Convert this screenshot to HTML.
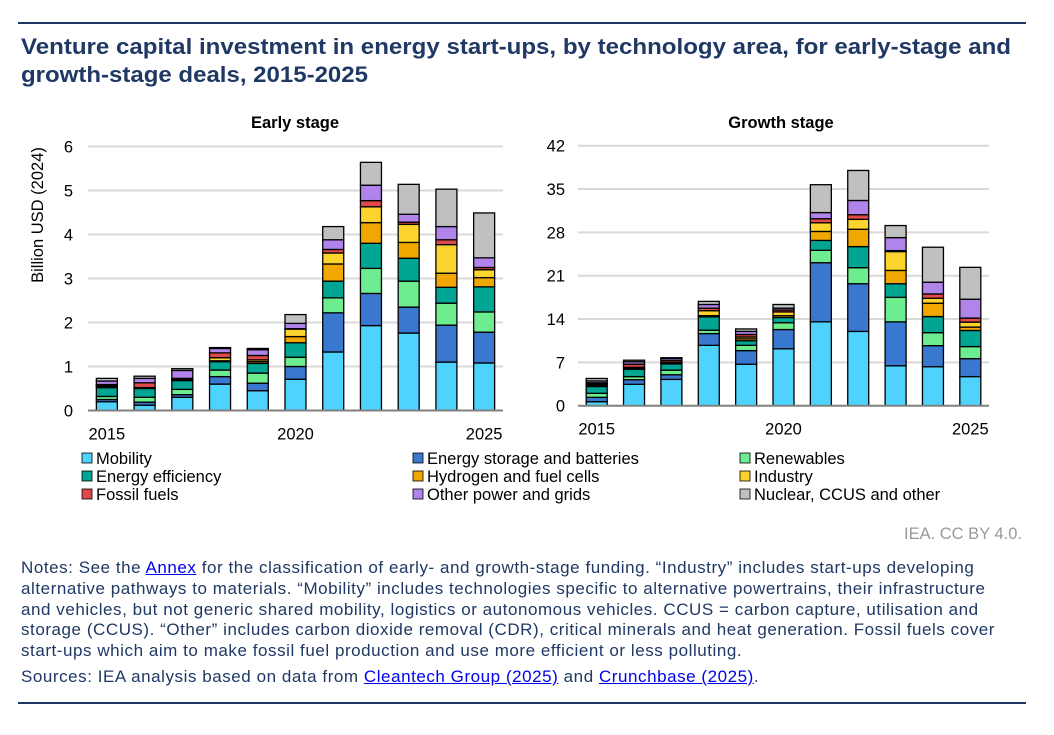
<!DOCTYPE html>
<html><head><meta charset="utf-8"><style>
body{margin:0;background:#fff;width:1054px;height:735px;overflow:hidden;font-family:"Liberation Sans",Arial,sans-serif}
#notes{position:absolute;left:21px;top:558px;font-size:17px;line-height:20.8px;letter-spacing:0.55px;color:#1f3864;white-space:nowrap}
#notes a{color:#0000ee;text-decoration:underline}
</style></head><body>
<svg id="svg" width="1054" height="735" style="position:absolute;left:0;top:0">
<line x1="18" y1="23" x2="1026" y2="23" stroke="#1f3864" stroke-width="2"/>
<text x="21" y="54" font-size="22" font-weight="bold" fill="#1f3864" textLength="990" lengthAdjust="spacingAndGlyphs">Venture capital investment in energy start-ups, by technology area, for early-stage and</text>
<text x="21" y="82" font-size="22" font-weight="bold" fill="#1f3864" textLength="347" lengthAdjust="spacingAndGlyphs">growth-stage deals, 2015-2025</text>
<text x="295" y="128" font-size="16.5" font-weight="bold" text-anchor="middle" fill="#000">Early stage</text>
<text x="781" y="128" font-size="16.5" font-weight="bold" text-anchor="middle" fill="#000">Growth stage</text>
<text transform="translate(43,215) rotate(-90)" font-size="16.5" text-anchor="middle" fill="#000">Billion USD (2024)</text>
<g id="early"></g><g id="growth"></g><g id="legend"></g>
<text x="1022" y="539" font-size="16.5" text-anchor="end" fill="#999">IEA. CC BY 4.0.</text>
<line x1="18" y1="703" x2="1026" y2="703" stroke="#1f3864" stroke-width="2"/>
</svg>
<div id="notes">Notes: See the <a>Annex</a> for the classification of early- and growth-stage funding. “Industry” includes start-ups developing<br>alternative pathways to materials. “Mobility” includes technologies specific to alternative powertrains, their infrastructure<br>and vehicles, but not generic shared mobility, logistics or autonomous vehicles. CCUS = carbon capture, utilisation and<br>storage (CCUS). “Other” includes carbon dioxide removal (CDR), critical minerals and heat generation. Fossil fuels cover<br>start-ups which aim to make fossil fuel production and use more efficient or less polluting.<div style="margin-top:5px">Sources: IEA analysis based on data from <a>Cleantech Group (2025)</a> and <a>Crunchbase (2025)</a>.</div></div>
<script>
const years=[2015,2016,2017,2018,2019,2020,2021,2022,2023,2024,2025];
const seriesNames=["Mobility","Energy storage and batteries","Renewables","Energy efficiency","Hydrogen and fuel cells","Industry","Fossil fuels","Other power and grids","Nuclear, CCUS and other"];
const colors=["#4dd3fd","#3a78d0","#6ded8f","#00a693","#f0a800","#fdd32d","#e0484a","#b084eb","#c0c0c0"];
const earlyTicks=[0,1,2,3,4,5,6];
const growthTicks=[0,7,14,21,28,35,42];
const xTickLabels=["2015","2020","2025"];
// early stage: per series across years
const earlyMobility=[0.2,0.12,0.3,0.6,0.45,0.71,1.33,1.93,1.76,1.1,1.08];
const earlyStorage=[0.05,0.07,0.06,0.17,0.17,0.29,0.89,0.73,0.59,0.84,0.7];
const earlyRenewables=[0.07,0.11,0.12,0.15,0.23,0.21,0.34,0.57,0.59,0.5,0.46];
const earlyEfficiency=[0.2,0.2,0.2,0.19,0.22,0.33,0.38,0.57,0.52,0.36,0.57];
const earlyHydrogen=[0.02,0.01,0.01,0.02,0.04,0.14,0.39,0.47,0.36,0.32,0.21];
const earlyIndustry=[0.02,0.01,0.01,0.07,0.04,0.17,0.25,0.36,0.41,0.65,0.18];
const earlyFossil=[0.03,0.11,0.03,0.11,0.1,0.01,0.08,0.14,0.05,0.11,0.05];
const earlyOther=[0.08,0.1,0.18,0.1,0.13,0.12,0.22,0.35,0.18,0.3,0.22];
const earlyNuclear=[0.06,0.05,0.04,0.02,0.03,0.2,0.3,0.52,0.68,0.85,1.02];
// growth stage
const growthMobility=[0.65,3.45,4.25,9.75,6.7,9.2,13.55,12.0,6.45,6.3,4.7];
const growthStorage=[0.7,0.75,0.75,1.9,2.2,3.1,9.55,7.7,7.1,3.4,2.9];
const growthRenewables=[0.65,0.5,0.75,0.55,0.85,1.1,2.0,2.6,3.95,2.1,1.95];
const growthEfficiency=[1.1,1.2,1.0,2.15,0.75,0.85,1.6,3.4,2.2,2.6,2.6];
const growthHydrogen=[0.2,0.1,0.1,0.2,0.3,0.3,1.45,2.8,2.15,2.15,0.55];
const growthIndustry=[0.2,0.2,0.2,0.8,0.3,0.6,1.4,1.6,3.05,0.8,0.8];
const growthFossil=[0.2,0.5,0.3,0.4,0.4,0.3,0.65,0.75,0.15,0.7,0.65];
const growthOther=[0.3,0.4,0.3,0.6,0.5,0.3,1.0,2.3,2.1,1.9,3.05];
const growthNuclear=[0.4,0.25,0.1,0.5,0.4,0.6,4.5,4.85,1.95,5.65,5.15];
const earlySeries=[earlyMobility,earlyStorage,earlyRenewables,earlyEfficiency,earlyHydrogen,earlyIndustry,earlyFossil,earlyOther,earlyNuclear];
const growthSeries=[growthMobility,growthStorage,growthRenewables,growthEfficiency,growthHydrogen,growthIndustry,growthFossil,growthOther,growthNuclear];
const NS="http://www.w3.org/2000/svg";
function mk(tag,attrs,parent){const e=document.createElementNS(NS,tag);for(const k in attrs)e.setAttribute(k,attrs[k]);parent.appendChild(e);return e;}
function drawPanel(g,series,ticks,x0,x1,y0,y1,labelX,prefix){
  const max=ticks[ticks.length-1];
  const y=v=>y0-(v/max)*(y0-y1);
  const step=(x1-x0)/years.length;
  const xc=i=>x0+step*(i+0.5);
  ticks.forEach(t=>{
    if(t>0){const l=mk('line',{x1:x0,x2:x1,y1:y(t),y2:y(t),stroke:'#d9d9d9','stroke-width':2},g);
    
    }
    const tx=mk('text',{x:labelX,y:y(t)+6,'font-size':16.5,'text-anchor':'end',fill:'#000'},g);
    tx.textContent=t;
    
    
  });
  years.forEach((yr,i)=>{
    let acc=0;
    series.forEach((s,k)=>{
      const v=s[i];
      const r=mk('rect',{x:xc(i)-10.5,y:y(acc+v),width:21,height:Math.max(0,y(acc)-y(acc+v)),fill:colors[k],stroke:'#000','stroke-width':1.3},g);
      
      
      acc+=v;
    });
  });
  const ax=mk('line',{x1:x0,x2:x1,y1:y0,y2:y0,stroke:'#808080','stroke-width':2},g);
  
  
  [0,5,10].forEach((i,j)=>{
    const t=mk('text',{x:xc(i),y:y0+29,'font-size':16.5,'text-anchor':'middle',fill:'#000'},g);
    t.textContent=xTickLabels[j];
    
    
  });
}
drawPanel(document.getElementById('early'),earlySeries,earlyTicks,88,503,410.5,146.5,73,'early');
drawPanel(document.getElementById('growth'),growthSeries,growthTicks,578,989,405.7,145.7,565,'growth');
const lg=document.getElementById('legend');
const lx=[82,413,740],ly=[458,476,494];
seriesNames.forEach((n,i)=>{
  const cx=lx[i%3],cy=ly[Math.floor(i/3)];
  const r=mk('rect',{x:cx,y:cy-5,width:10,height:10,fill:colors[i],stroke:'#000','stroke-width':0.8},lg);
  
  
  const t=mk('text',{x:cx+14,y:cy+6,'font-size':16.5,fill:'#000'},lg);
  t.textContent=n;
  
  
});
</script>
</body></html>
